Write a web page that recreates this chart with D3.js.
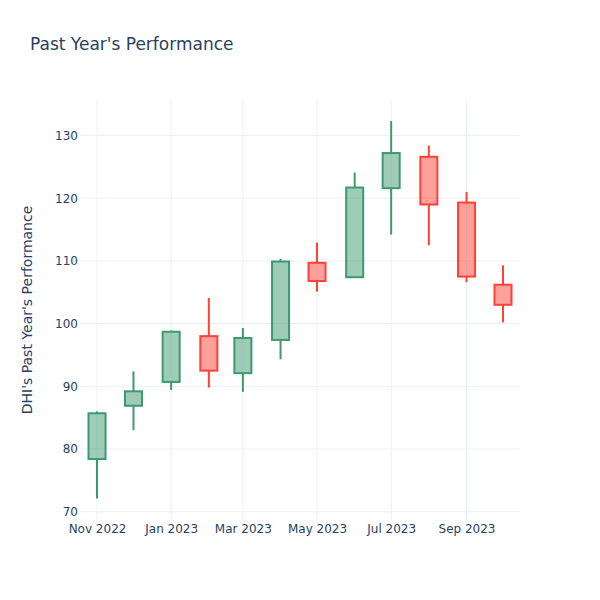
<!DOCTYPE html>
<html>
<head>
<meta charset="utf-8">
<script src="https://cdn.jsdelivr.net/npm/d3@7"></script>
<style>
  body { margin: 0; background: #fff; }
  svg { display: block; font-family: "DejaVu Sans", verdana, arial, sans-serif; }
</style>
</head>
<body>
<svg id="chart" width="600" height="600"></svg>
<script>
const dates = ["2022-11-01","2022-12-01","2023-01-01","2023-02-01","2023-03-01","2023-04-01",
               "2023-05-01","2023-06-01","2023-07-01","2023-08-01","2023-09-01","2023-10-01"];
const openVals  = [78.4, 86.9, 90.7, 98.0, 92.1, 97.4, 109.7, 107.4, 121.6, 126.6, 119.3, 106.2];
const highVals  = [86.0, 92.4, 98.9, 104.1, 99.3, 110.3, 112.9, 124.1, 132.3, 128.4, 121.0, 109.3];
const lowVals   = [72.1, 83.0, 89.4, 89.8, 89.1, 94.3, 105.1, 107.4, 114.2, 112.5, 106.6, 100.2];
const closeVals = [85.7, 89.2, 98.7, 92.5, 97.7, 109.9, 106.8, 121.7, 127.2, 119.0, 107.5, 103.0];
const yTicks = [70, 80, 90, 100, 110, 120, 130];
const xTickDates = ["2022-11-01","2023-01-01","2023-03-01","2023-05-01","2023-07-01","2023-09-01"];
const xTickLabels = ["Nov 2022","Jan 2023","Mar 2023","May 2023","Jul 2023","Sep 2023"];
const titleText = "Past Year's Performance";
const yTitle = "DHI's Past Year's Performance";

const parse = d3.utcParse("%Y-%m-%d");
const data = dates.map((d, i) => ({
  date: parse(d), open: openVals[i], high: highVals[i], low: lowVals[i], close: closeVals[i]
}));

const FONT = '"DejaVu Sans", verdana, arial, sans-serif';
const svg = d3.select("#chart");
const W = 600, H = 600;
const m = {l: 80, r: 80, t: 100, b: 80};
const pw = W - m.l - m.r, ph = H - m.t - m.b;
const DAY = 864e5;
const halfW = 7 * DAY;

const x = d3.scaleUtc()
  .domain([new Date(data[0].date - 14 * DAY), new Date(+data[data.length - 1].date + 14 * DAY)])
  .range([m.l, m.l + pw]);
const y = d3.scaleLinear().domain([68.68, 135.66]).range([m.t + ph, m.t]);

const grid = "#EBF0F8", txt = "#2a3f5f";

svg.append("g").selectAll("line").data(xTickDates).join("line")
  .attr("x1", d => x(parse(d))).attr("x2", d => x(parse(d)))
  .attr("y1", m.t).attr("y2", m.t + ph)
  .attr("stroke", grid).attr("stroke-width", 1);
svg.append("g").selectAll("line").data(yTicks).join("line")
  .attr("x1", m.l).attr("x2", m.l + pw)
  .attr("y1", d => y(d)).attr("y2", d => y(d))
  .attr("stroke", grid).attr("stroke-width", 1);

const yAxis = d3.axisLeft(y).tickValues(yTicks).tickSize(0).tickPadding(2);
const gy = svg.append("g").attr("transform", `translate(${m.l},0)`).call(yAxis);
gy.select(".domain").remove();
gy.selectAll("text").attr("font-size", 12).attr("fill", txt).attr("font-family", FONT);

const xAxis = d3.axisBottom(x).tickValues(xTickDates.map(parse))
  .tickFormat((d, i) => xTickLabels[i]).tickSize(0).tickPadding(4);
const gx = svg.append("g").attr("transform", `translate(0,${m.t + ph})`).call(xAxis);
gx.select(".domain").remove();
gx.selectAll("text").attr("font-size", 12).attr("fill", txt).attr("font-family", FONT);

const inc = {line: "#3D9970", fill: "rgba(61,153,112,0.5)"};
const dec = {line: "#FF4136", fill: "rgba(255,65,54,0.5)"};
const g = svg.append("g");
data.forEach(d => {
  const c = d.close >= d.open ? inc : dec;
  const cx = x(d.date);
  const top = Math.max(d.open, d.close), bot = Math.min(d.open, d.close);
  g.append("line").attr("x1", cx).attr("x2", cx).attr("y1", y(d.high)).attr("y2", y(top))
    .attr("stroke", c.line).attr("stroke-width", 2);
  g.append("line").attr("x1", cx).attr("x2", cx).attr("y1", y(bot)).attr("y2", y(d.low))
    .attr("stroke", c.line).attr("stroke-width", 2);
  const x0 = x(new Date(+d.date - halfW)), x1 = x(new Date(+d.date + halfW));
  g.append("rect").attr("x", x0).attr("width", x1 - x0)
    .attr("y", y(top)).attr("height", y(bot) - y(top))
    .attr("fill", c.fill).attr("stroke", c.line).attr("stroke-width", 2);
});

svg.append("text").attr("x", 30).attr("y", 50).text(titleText)
  .attr("font-size", 17).attr("fill", txt).attr("font-family", FONT);
svg.append("text").attr("transform", `translate(32,${m.t + ph / 2}) rotate(-90)`)
  .attr("text-anchor", "middle").text(yTitle).attr("font-size", 14).attr("fill", txt)
  .attr("font-family", FONT);
</script>
</body>
</html>
